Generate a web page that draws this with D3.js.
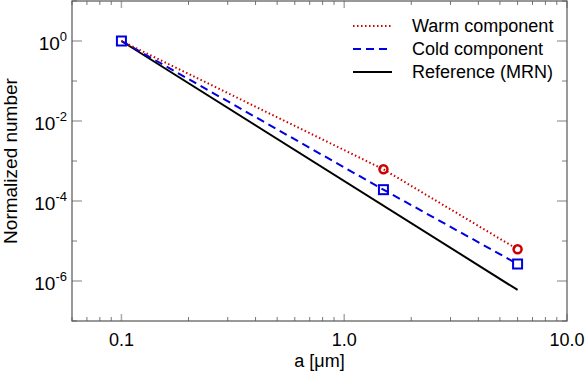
<!DOCTYPE html>
<html><head><meta charset="utf-8">
<script src="https://cdn.jsdelivr.net/npm/d3@7"></script>
<style>
body{margin:0;background:#fff;}
text{font-family:"Liberation Sans",Arial,Helvetica,sans-serif;fill:#000;}
</style></head>
<body><svg id="c" width="587" height="375"></svg>
<script>
const sizes = [0.1, 1.5, 6.0];
const warm = [1, 6.2e-4, 6.2e-6];
const cold = [1, 1.92e-4, 2.66e-6];
const mrnSizes = [0.1, 6.0];
const mrn = [1, 5.97e-7];
const xTickValues = [0.1, 1, 10];
const xTickLabels = ["0.1", "1.0", "10.0"];
const yTickExps = [0, -2, -4, -6];
const legendLabels = ["Warm component", "Cold component", "Reference (MRN)"];

const W = 587, H = 375;
const m = {l: 72, t: 1, r: 20, b: 54};
const svg = d3.select("#c");
const x = d3.scaleLog().domain([0.06, 10]).range([m.l, W - m.r]);
const y = d3.scaleLog().domain([1e-7, 10]).range([H - m.b, m.t]);
const x0 = m.l, x1 = W - m.r, y0 = H - m.b, y1 = m.t;

// x ticks
const xMinor = [];
[0.01, 0.1, 1].forEach(d => { for (let k = 2; k <= 9; k++) { const v = d * k; if (v >= 0.06 && v < 10) xMinor.push(v); } });
const g = svg.append("g");
xMinor.forEach(v => {
  const px = x(v);
  g.append("line").attr("x1", px).attr("x2", px).attr("y1", y0).attr("y2", y0 - 4).attr("stroke", "#777");
  g.append("line").attr("x1", px).attr("x2", px).attr("y1", y1).attr("y2", y1 + 4).attr("stroke", "#777");
});
xTickValues.forEach((v, i) => {
  const px = x(v);
  g.append("line").attr("x1", px).attr("x2", px).attr("y1", y0).attr("y2", y0 - 7).attr("stroke", "#aaa").attr("stroke-width", 1.5);
  g.append("line").attr("x1", px).attr("x2", px).attr("y1", y1).attr("y2", y1 + 7).attr("stroke", "#aaa").attr("stroke-width", 1.5);
  g.append("text").attr("x", px).attr("y", 346).attr("text-anchor", "middle").attr("font-size", 18).text(xTickLabels[i]);
});
// y ticks
for (let e = -7; e <= 1; e++) {
  const py = y(Math.pow(10, e));
  const major = (e % 2 === 0);
  const len = major ? 10 : 5;
  g.append("line").attr("x1", x0).attr("x2", x0 + len).attr("y1", py).attr("y2", py).attr("stroke", "#aaa").attr("stroke-width", 1.5);
  g.append("line").attr("x1", x1).attr("x2", x1 - len).attr("y1", py).attr("y2", py).attr("stroke", "#aaa").attr("stroke-width", 1.5);
}
yTickExps.forEach(e => {
  const py = y(Math.pow(10, e));
  const t = g.append("text").attr("x", 67).attr("y", py + 9).attr("text-anchor", "end").attr("font-size", 19);
  t.append("tspan").text("10");
  t.append("tspan").attr("dy", -9).attr("font-size", 13).text(String(e));
});
// frame
svg.append("rect").attr("x", x0).attr("y", y1).attr("width", x1 - x0).attr("height", y0 - y1)
  .attr("fill", "none").attr("stroke", "#555").attr("stroke-width", 1.2);

const line = d3.line().x(d => x(d[0])).y(d => y(d[1]));
svg.append("path").datum(mrnSizes.map((s, i) => [s, mrn[i]])).attr("d", line)
  .attr("fill", "none").attr("stroke", "#000").attr("stroke-width", 2);
svg.append("path").datum(sizes.map((s, i) => [s, cold[i]])).attr("d", line)
  .attr("fill", "none").attr("stroke", "#0000e0").attr("stroke-width", 2).attr("stroke-dasharray", "8,5");
svg.append("path").datum(sizes.map((s, i) => [s, warm[i]])).attr("d", line)
  .attr("fill", "none").attr("stroke", "#cc0000").attr("stroke-width", 2).attr("stroke-dasharray", "1.5,2.5");

svg.selectAll("circle.w").data(sizes.slice(1).map((s, i) => [s, warm[i + 1]])).enter().append("circle")
  .attr("cx", d => x(d[0])).attr("cy", d => y(d[1])).attr("r", 4)
  .attr("fill", "none").attr("stroke", "#cc0000").attr("stroke-width", 2.5);
svg.selectAll("rect.c").data(sizes.map((s, i) => [s, cold[i]])).enter().append("rect")
  .attr("x", d => x(d[0]) - 4.5).attr("y", d => y(d[1]) - 4.5).attr("width", 9).attr("height", 9)
  .attr("fill", "none").attr("stroke", "#0000e0").attr("stroke-width", 2);

// legend
const legStyles = [
  {stroke: "#cc0000", dash: "1.5,2.5"},
  {stroke: "#0000e0", dash: "8,5"},
  {stroke: "#000", dash: null}
];
const legY = [26, 49, 72];
legendLabels.forEach((lab, i) => {
  const l = svg.append("line").attr("x1", 353).attr("x2", 392).attr("y1", legY[i]).attr("y2", legY[i])
    .attr("stroke", legStyles[i].stroke).attr("stroke-width", 2);
  if (legStyles[i].dash) l.attr("stroke-dasharray", legStyles[i].dash);
  svg.append("text").attr("x", 412).attr("y", legY[i] + 6).attr("font-size", 18).text(lab);
});

// axis labels
svg.append("text").attr("transform", `translate(17,${(y0 + y1) / 2}) rotate(-90)`)
  .attr("text-anchor", "middle").attr("font-size", 19).text("Normalized number");
svg.append("text").attr("x", (x0 + x1) / 2).attr("y", 367).attr("text-anchor", "middle").attr("font-size", 18).text("a [μm]");
</script></body></html>
